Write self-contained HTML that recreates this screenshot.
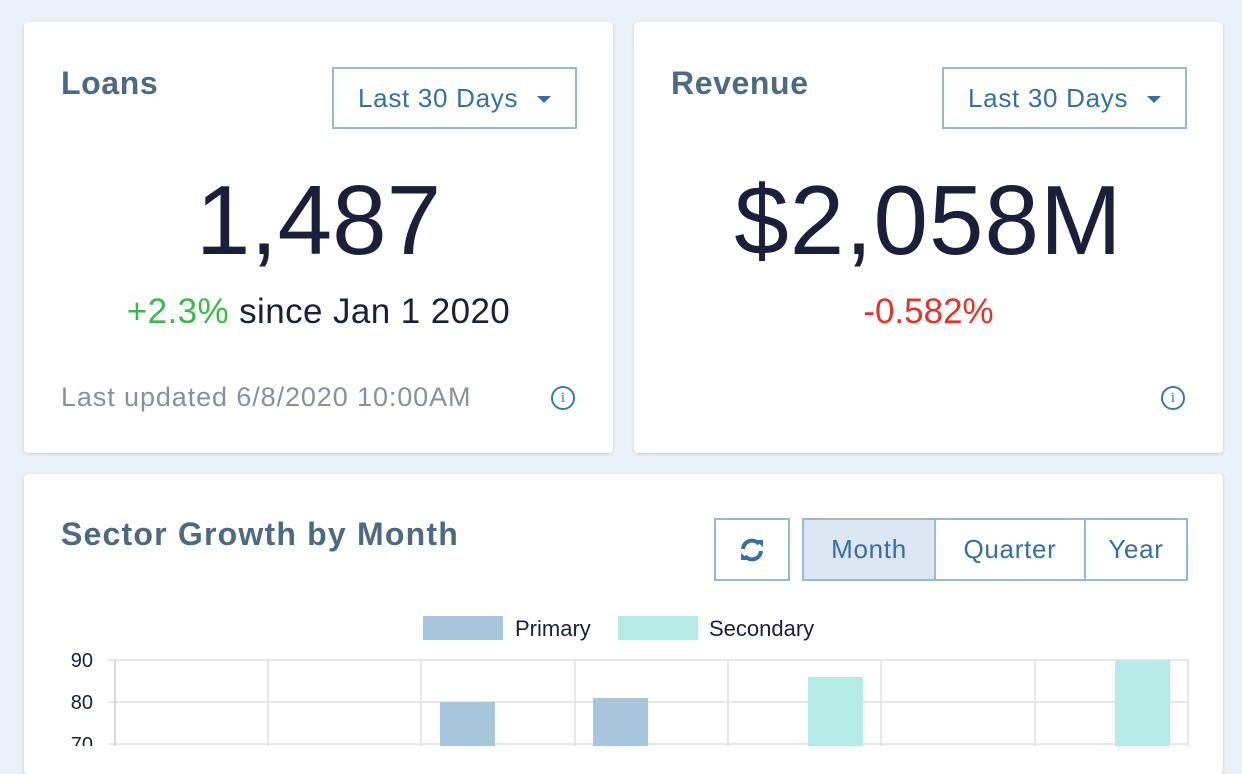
<!DOCTYPE html><html><head><style>
body{margin:0;width:1242px;height:746px;overflow:hidden;background:#e8f0f8;font-family:"Liberation Sans",sans-serif;position:relative}
.card{position:absolute;background:#fff;border-radius:4px;box-shadow:0 1px 3px rgba(0,0,0,.15)}
.t{position:absolute;color:#4e6a80;font-size:32px;font-weight:bold;letter-spacing:0.6px}
.dd{position:absolute;border:2px solid #9ab8d3;color:#3570a0;font-size:26px;box-sizing:border-box;line-height:58px;padding-left:24px;letter-spacing:0.7px}
.dd:after{content:"";position:absolute;right:24px;top:27px;border:7px solid transparent;border-top:7px solid #3570a0}
.big{position:absolute;left:0;right:0;text-align:center;color:#1c1f3a;font-size:98px}
.info{position:absolute;width:24px;height:24px;border:2px solid #3a78b0;border-radius:50%;box-sizing:border-box;color:#3a78b0;font-size:15px;text-align:center;line-height:21px;font-family:"Liberation Serif",serif}
.btn{position:absolute;border:2px solid #9ab8d3;box-sizing:border-box;color:#3570a0;font-size:26px;text-align:center;line-height:58px;height:63px;top:518px;letter-spacing:0.7px}
</style></head><body>
<div class="card" style="left:24px;top:22px;width:589px;height:431px">
<div class="t" style="left:37px;top:43px">Loans</div>
<div class="dd" style="left:308px;top:45px;width:245px;height:62px">Last 30 Days</div>
<div class="big" style="top:142px">1,487</div>
<div style="position:absolute;left:0;right:0;top:270px;text-align:center;font-size:35px;color:#1c1f3a;letter-spacing:0.4px"><span style="color:#3cb94a">+2.3%</span> since Jan 1 2020</div>
<div style="position:absolute;left:37px;top:360px;font-size:27px;color:#8a8f99;letter-spacing:0.9px">Last updated 6/8/2020 10:00AM</div>
<div class="info" style="left:527px;top:364px">i</div>
</div>
<div class="card" style="left:634px;top:22px;width:589px;height:431px">
<div class="t" style="left:37px;top:43px">Revenue</div>
<div class="dd" style="left:308px;top:45px;width:245px;height:62px">Last 30 Days</div>
<div class="big" style="top:142px;letter-spacing:1px">$2,058M</div>
<div style="position:absolute;left:0;right:0;top:270px;text-align:center;font-size:35px;color:#e0342a">-0.582%</div>
<div class="info" style="left:527px;top:364px">i</div>
</div>
<div class="card" style="left:24px;top:474px;width:1199px;height:300px"></div>
<div class="t" style="left:61px;top:516px;letter-spacing:1.2px">Sector Growth by Month</div>
<div class="btn" style="left:714px;width:76px">
<svg width="30" height="30" viewBox="0 0 30 30" style="margin-top:15px"><path d="M6 14a9 9 0 0 1 16-5" stroke="#3570a0" stroke-width="4" fill="none"/><path d="M24 16a9 9 0 0 1-16 5" stroke="#3570a0" stroke-width="4" fill="none"/><path d="M18 5l8 0 0 7z" fill="#3570a0"/><path d="M12 25l-8 0 0-7z" fill="#3570a0"/></svg></div>
<div class="btn" style="left:802px;width:134px;background:#dbe6f2">Month</div>
<div class="btn" style="left:934px;width:152px">Quarter</div>
<div class="btn" style="left:1084px;width:104px">Year</div>
<svg style="position:absolute;left:0;top:600px" width="1242" height="146">
<rect x="423" y="16" width="80" height="24" fill="#a7c6dc"/><text x="515" y="36" font-size="22" fill="#1c1f3a" font-family="Liberation Sans">Primary</text>
<rect x="618" y="16" width="80" height="24" fill="#b4ebe5"/><text x="709" y="36" font-size="22" fill="#1c1f3a" font-family="Liberation Sans">Secondary</text>
<g stroke="#e0e0e0" stroke-width="1.5">
<line x1="108" y1="60" x2="1188" y2="60"/><line x1="108" y1="102" x2="1188" y2="102"/><line x1="108" y1="144" x2="1188" y2="144"/>
<line x1="115" y1="60" x2="115" y2="146" stroke="#ccc"/><line x1="268" y1="60" x2="268" y2="146"/><line x1="421" y1="60" x2="421" y2="146"/><line x1="575" y1="60" x2="575" y2="146"/><line x1="728" y1="60" x2="728" y2="146"/><line x1="881" y1="60" x2="881" y2="146"/><line x1="1035" y1="60" x2="1035" y2="146"/><line x1="1188" y1="60" x2="1188" y2="146"/>
</g>
<rect x="440" y="102" width="55" height="50" fill="#a7c6dc"/>
<rect x="593" y="98" width="55" height="50" fill="#a7c6dc"/>
<rect x="808" y="77" width="55" height="70" fill="#b4ebe5"/>
<rect x="1115" y="60" width="55" height="90" fill="#b4ebe5"/>
<g font-size="20" fill="#1c1f3a" font-family="Liberation Sans" text-anchor="end"><text x="93" y="67">90</text><text x="93" y="109">80</text><text x="93" y="151">70</text></g>
</svg>
</body></html>
